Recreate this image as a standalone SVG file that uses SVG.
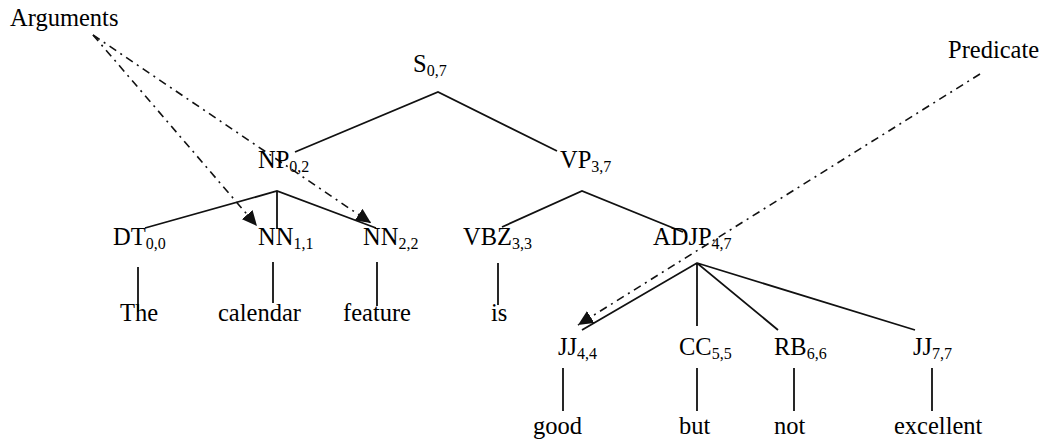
<svg xmlns="http://www.w3.org/2000/svg" width="1045" height="440" viewBox="0 0 1045 440">
<defs>
<style>
text{font-family:"Liberation Serif","Times New Roman",serif;font-size:24.5px;fill:#000}
.sub{font-size:16px}
.e{stroke:#111;stroke-width:1.8;fill:none}
.d{stroke:#111;stroke-width:1.6;fill:none;stroke-dasharray:8 5 2 5}
</style>
<marker id="ah" viewBox="0 0 15 14" refX="15" refY="7" markerWidth="15" markerHeight="14" markerUnits="userSpaceOnUse" orient="auto">
<path d="M0,0 L15,7 L0,14 z" fill="#111"/>
</marker>
</defs>
<rect width="1045" height="440" fill="#fff"/>
<g id="connectors">
<path class="e" d="M295,152 L438,92 L557,151"/>
<path class="e" d="M145,228 L277,191 L376,228 M277,191 L277,229"/>
<path class="e" d="M502,227 L582,191 L683,232"/>
<path class="e" d="M582,330 L697,263 L778,330 M697,263 L697,326 M697,263 L915,330"/>
<path class="e" d="M138,267 L138,312 M273,262 L273,303 M377,262 L377,306 M498,263 L498,305"/>
<path class="e" d="M563,368 L563,411 M697,368 L697,411 M794,368 L794,411 M932,368 L932,411"/>
<line class="d" x1="93" y1="35" x2="257" y2="226" marker-end="url(#ah)"/>
<line class="d" x1="93" y1="35" x2="371" y2="223" marker-end="url(#ah)"/>
<line class="d" x1="980" y1="74" x2="578" y2="325" marker-end="url(#ah)"/>
</g>
<g id="label-arguments"><text x="10" y="26">Arguments</text></g>
<g id="label-predicate"><text x="948" y="58">Predicate</text></g>
<g id="S"><text x="413" y="72">S<tspan class="sub" dy="4">0,7</tspan></text></g>
<g id="NP"><text x="258" y="168">NP<tspan class="sub" dy="4">0,2</tspan></text></g>
<g id="VP"><text x="560" y="168">VP<tspan class="sub" dy="4">3,7</tspan></text></g>
<g id="DT"><text x="113" y="245">DT<tspan class="sub" dy="4">0,0</tspan></text></g>
<g id="NN1"><text x="258" y="245">NN<tspan class="sub" dy="4">1,1</tspan></text></g>
<g id="NN2"><text x="363" y="245">NN<tspan class="sub" dy="4">2,2</tspan></text></g>
<g id="VBZ"><text x="463" y="245">VBZ<tspan class="sub" dy="4">3,3</tspan></text></g>
<g id="ADJP"><text x="653" y="245">ADJP<tspan class="sub" dy="4">4,7</tspan></text></g>
<g id="w-the"><text x="120" y="321">The</text></g>
<g id="w-calendar"><text x="218" y="321">calendar</text></g>
<g id="w-feature"><text x="343" y="321">feature</text></g>
<g id="w-is"><text x="491" y="321">is</text></g>
<g id="JJ1"><text x="558" y="355">JJ<tspan class="sub" dy="4">4,4</tspan></text></g>
<g id="CC"><text x="679" y="355">CC<tspan class="sub" dy="4">5,5</tspan></text></g>
<g id="RB"><text x="774" y="355">RB<tspan class="sub" dy="4">6,6</tspan></text></g>
<g id="JJ2"><text x="913" y="355">JJ<tspan class="sub" dy="4">7,7</tspan></text></g>
<g id="w-good"><text x="533" y="434">good</text></g>
<g id="w-but"><text x="679" y="434">but</text></g>
<g id="w-not"><text x="774" y="434">not</text></g>
<g id="w-excellent"><text x="894" y="434">excellent</text></g>
</svg>
